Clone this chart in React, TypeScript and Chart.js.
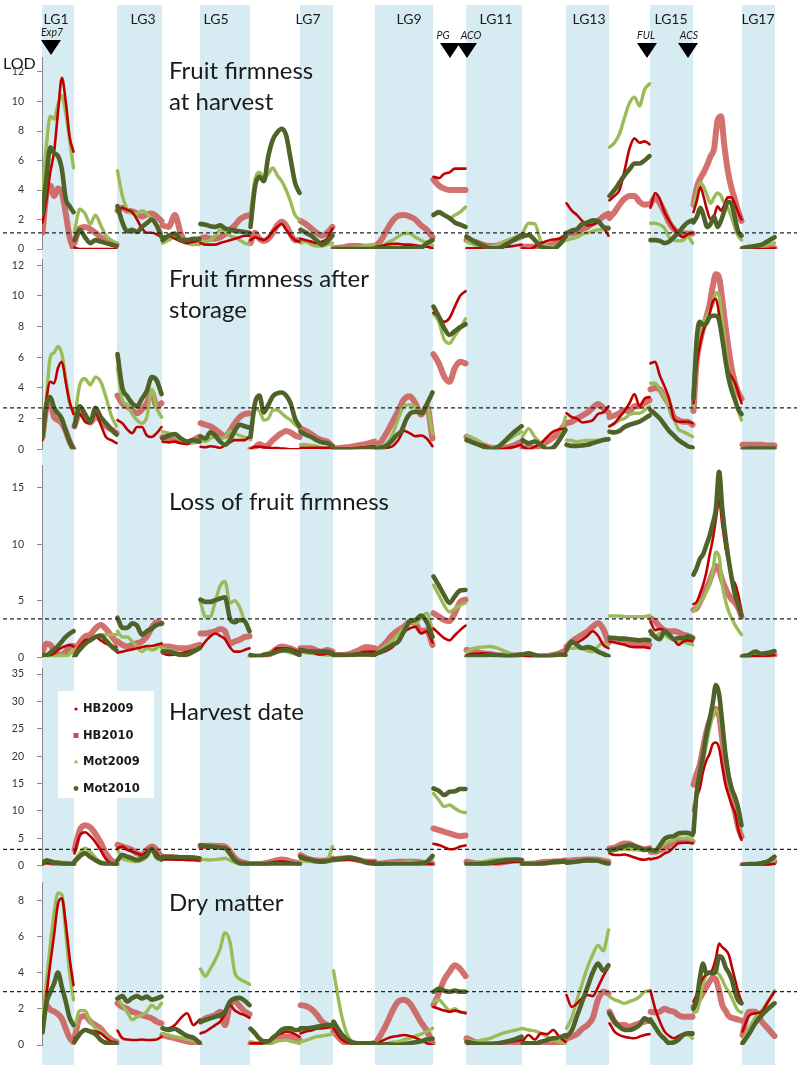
import React, { useEffect, useRef } from "react";
import { Chart, registerables } from "chart.js";

Chart.register(...registerables);

const PAGE_W = 800;
const PAGE_H = 1065;

// ---------------- map layout (cM-like positions along the concatenated genome) ----------------
const linkageGroups = ["LG1","LG2","LG3","LG4","LG5","LG6","LG7","LG8","LG9","LG10","LG11","LG12","LG13","LG14","LG15","LG16","LG17"];
const lgStart = [0, 32, 75, 120, 158, 208, 258, 291, 333, 391, 424, 480, 524, 567, 608, 651, 700];
const lgEnd = [32, 75, 120, 158, 208, 258, 291, 333, 391, 424, 480, 524, 567, 608, 651, 700, 733];
const lgLabelPos = [14, 0, 101, 0, 174, 0, 266, 0, 367, 0, 454, 0, 547, 0, 629, 0, 716];
const mapMax = 755;

const markerNames = ["Exp7", "PG", "ACO", "FUL", "ACS"];
const markerPos = [9, 408, 425, 605, 646];
const markerLabelPos = [10, 401, 429, 604, 647];

const seriesNames = ["HB2009", "HB2010", "Mot2009", "Mot2010"];

// ---------------- LOD profiles: one sub-array per linkage group ----------------
// Fruit firmness at harvest
const harvestHB2009 = [
  [1.8,3.3,5.2,6.6,9.3,11.6,10.0,7.6,6.6],
  [0.1,0,0,0,0,0,0,0,0],
  [2.6,2.8,2.65,2.5,2.0,1.4,1.1,1.1,1.0,0.8],
  [0.8,0.9,0.7,0.5,0.4,0.5,0.6],
  [0.4,0.3,0.3,0.3,0.4,0.5,0.6,0.7,0.8,0.9,0.9],
  [0.6,0.8,0.7,0.6,0.8,1.2,1.5,1.7,1.3,0.9,0.6,0.5],
  [0.7,0.6,0.5,0.4,0.5,0.7,1.4],
  [0,0,0,0,0,0],
  [0.15,0.2,0.3,0.35,0.35,0.3,0.3,0.25,0.2,0.15,0.05],
  [4.9,4.8,5.1,5.2,5.45,5.45,5.45],
  [0.05,0.05,0.05,0,0.05,0.15,0.2,0.3],
  [0.05,0,0.15,0.4,0.55,0.65,0.7,0.95],
  [3.1,2.6,2.3,1.9,1.6,1.65,1.8,1.5,0.9],
  [3.3,3.6,4.0,5.3,6.8,7.5,7.2,7.3,7.1],
  [2.8,3.8,3.4,2.5,1.9,1.4,1.0,0.8,1.0,1.1],
  [2.5,3.3,4.2,3.5,2.6,2.0,2.2,2.9,2.6,3.0,3.5,3.5,3.1,2.5,2.0],
  [0,0,0,0,0,0.05],
];
const harvestHB2010 = [
  [1.1,3.7,4.3,3.6,4.1,3.8,2.4,0.8,0],
  [0.4,1.4,1.5,1.35,1.1,0.8,0.55,0.4,0.3],
  [2.6,2.8,2.6,2.55,2.4,2.2,2.35,2.4,2.2,1.9],
  [1.6,1.5,2.3,1.0,0.5,0.5,0.6],
  [0.7,0.8,0.7,0.7,0.8,1.0,1.3,1.6,2.0,2.2,2.3],
  [0.4,1.1,0.7,0.55,0.7,1.1,1.6,1.85,1.6,1.0,0.6,0.6],
  [1.9,1.7,1.4,1.1,0.9,1.1,1.5],
  [0.05,0.1,0.2,0.2,0.15,0.1],
  [0.2,0.6,1.3,1.9,2.25,2.3,2.2,2.0,1.6,1.3,0.8],
  [4.7,4.3,4.1,4.0,4.0,4.0,4.0],
  [0.6,0.5,0.3,0.2,0.25,0.45,0.65,0.85],
  [0.15,0.15,0.15,0.05,0.2,0.35,0.6,0.85],
  [1.05,1.05,1.15,1.35,1.5,1.75,1.9,2.2,2.4],
  [2.1,2.5,3.0,3.4,3.6,3.6,3.2,3.0,3.05],
  [3.05,3.5,3.1,2.5,1.8,1.35,1.1,1.05,1.05,1.05],
  [3.0,4.2,4.8,5.2,5.7,6.3,6.8,8.7,9.0,7.0,5.3,4.2,3.4,2.6,1.9],
  [0,0.05,0.05,0.05,0.05,0.05],
];
const harvestMot2009 = [
  [4.0,7.0,9.0,8.8,9.8,10.4,9.2,7.4,5.5],
  [1.2,2.7,2.4,1.7,2.3,1.6,0.9,0.6,0.4],
  [5.3,3.6,2.7,2.4,2.4,2.6,2.4,2.0,1.6,1.1],
  [0.4,0.6,0.8,0.6,0.4,0.3,0.3],
  [0.6,0.5,0.6,0.9,1.3,1.2,0.9,0.8,0.6,0.4,0.3],
  [2.4,4.7,5.2,4.8,5.1,5.5,5.0,4.6,4.0,3.2,2.3,2.0],
  [0.4,0.5,0.3,0.2,0.2,0.3,0.4],
  [0.05,0.05,0.05,0.1,0.25,0.3],
  [0.15,0.2,0.4,0.6,0.85,1.05,1.05,0.8,0.6,0.4,0.25],
  [2.4,2.4,2.3,2.1,2.3,2.5,2.85],
  [0.5,0.3,0.1,0.15,0.3,0.5,0.75,0.95],
  [1.05,1.75,1.7,0.5,0.2,0.15,0.3,0.6],
  [0.6,0.7,0.8,1.0,1.1,1.2,1.3,1.3,1.5],
  [6.9,7.2,7.8,8.9,9.9,10.3,9.7,10.8,11.2],
  [1.75,1.75,1.65,1.4,0.8,0.6,0.55,0.6,0.85,0.4],
  [3.0,3.8,4.5,4.2,3.6,3.1,3.5,3.8,3.6,3.1,2.8,2.2,1.5,0.9,0.6],
  [0,0.05,0.1,0.15,0.3,0.4],
];
const harvestMot2010 = [
  [2.4,4.8,6.9,6.5,6.3,5.4,3.4,2.9,2.5],
  [0.6,1.3,0.8,0.4,0.6,0.5,0.4,0.3,0.2],
  [2.9,1.8,1.2,1.3,1.15,1.5,1.75,2.0,1.6,0.8],
  [0.6,0.9,1.05,0.6,0.6,0.7,0.7],
  [1.7,1.65,1.55,1.5,1.6,1.4,1.3,1.25,1.2,1.15,1.1],
  [1.5,4.2,4.9,4.6,6.3,7.4,7.9,8.15,7.7,6.1,4.5,3.8],
  [1.3,1.1,0.9,0.6,0.3,0.5,0.9],
  [0,0,0,0,0,0],
  [0.05,0.05,0.05,0.05,0.05,0.05,0.05,0.1,0.1,0.4,0.6],
  [2.3,2.5,2.3,2.1,1.8,1.65,1.5],
  [0.85,0.5,0.25,0.05,0.05,0.3,0.6,0.95],
  [0.85,0.95,0.6,0.15,0.05,0,0.3,0.85],
  [1.05,1.25,1.35,1.7,1.8,1.95,1.9,1.5,1.4],
  [3.6,4.0,4.5,5.0,5.4,5.8,5.8,6.0,6.3],
  [0.6,0.6,0.55,0.4,0.5,0.8,1.1,1.5,1.8,1.95],
  [1.8,2.2,2.8,2.2,1.5,1.7,2.2,1.5,1.9,2.6,3.2,3.1,2.2,1.2,0.9],
  [0.05,0.15,0.2,0.3,0.55,0.8],
];

// Fruit firmness after storage
const storageHB2009 = [
  [0.6,3.2,4.4,4.3,5.3,5.7,4.4,3.1,2.3],
  [1.7,2.3,1.8,1.7,2.35,1.6,0.8,0.6,0.4],
  [1.9,1.7,1.3,1.05,1.45,1.45,0.9,0.8,1.05,1.45],
  [0.5,0.45,0.5,0.4,0.35,0.6,0.6],
  [0.17,0.13,0.2,0.17,0.1,0.25,0.45,0.6,0.6,0.6,0.83],
  [0,0.17,0.17,0.13,0.1,0.08,0.08,0.05,0.04,0,0,0],
  [0.1,0.1,0.1,0.1,0.1,0.1,0.1],
  [0,0,0.05,0.1,0.15,0.2],
  [0,0,0.1,0.2,0.6,1.2,1.05,0.85,0.9,0.7,0.2],
  [8.9,8.65,8.3,8.55,9.3,10.0,10.3],
  [0.7,0.4,0.3,0.1,0,0.05,0.15,0.3],
  [0.17,0,0.17,0.4,0.8,1.15,1.3,1.35],
  [2.35,2.1,2.0,1.75,1.8,1.9,2.3,2.4,2.8],
  [1.5,1.7,2.1,2.5,3.0,3.6,2.8,3.3,3.4],
  [5.6,5.7,4.8,4.1,3.3,2.0,1.8,1.8,1.8,1.7],
  [3.0,5.5,6.8,7.7,8.2,8.8,9.6,9.8,8.8,7.2,5.7,5.0,4.7,4.3,3.7,3.0],
  [0.05,0.05,0.05,0.05,0.05,0.05],
];
const storageHB2010 = [
  [0.8,2.7,3.0,2.1,1.9,1.7,1.2,0.5,0],
  [1.5,2.35,2.1,1.75,2.1,1.9,1.5,1.3,1.05],
  [3.5,3.0,2.8,2.55,2.35,2.6,3.0,3.7,2.8,3.0],
  [0.8,0.7,0.6,0.5,0.45,0.6,0.83],
  [1.7,1.6,1.5,1.3,1.05,0.85,1.2,1.7,2.1,2.3,2.35],
  [0,0.1,0.35,0.2,0.3,0.6,0.85,1.05,1.2,1.1,0.9,0.8],
  [1.35,1.2,1.0,0.75,0.6,0.5,0.2],
  [0.05,0.1,0.15,0.25,0.35,0.5],
  [0.17,0.5,1.1,1.8,2.5,3.25,3.45,3.0,2.25,2.8,0.7],
  [6.2,5.6,4.75,4.4,5.3,5.7,5.6],
  [0.83,0.5,0.3,0.1,0.07,0.1,0.25,0.5],
  [0.07,0.17,0.07,0.25,0.5,0.75,1.15,1.7],
  [1.7,1.8,2.0,2.2,2.4,2.7,2.95,2.7,2.4],
  [2.1,2.2,2.35,2.55,2.45,2.8,2.8,3.0,3.2],
  [3.9,4.0,3.9,3.4,2.9,2.1,1.9,1.8,1.8,1.6],
  [2.5,5.8,7.0,7.9,8.6,9.4,10.6,11.4,11.2,9.7,8.0,6.5,5.2,4.3,3.7,3.3],
  [0.3,0.3,0.3,0.3,0.25,0.25],
];
const storageMot2009 = [
  [0.8,3.3,6.0,6.3,6.7,6.2,4.6,3.0,2.5],
  [1.9,4.2,4.6,4.2,4.7,4.4,3.4,2.2,1.5],
  [5.3,3.2,2.9,2.3,1.9,1.7,2.1,3.9,2.7,2.1],
  [1.15,1.05,0.85,0.6,0.5,0.4,0.5],
  [0.6,0.5,0.7,0.8,0.7,0.8,1.2,1.05,0.9,0.8,0.7],
  [0.6,2.6,2.5,1.9,2.0,2.55,2.55,2.35,2.1,1.9,1.6,1.4],
  [0.3,0.3,0.25,0.2,0.1,0.05,0],
  [0,0,0.05,0.1,0.15,0.2],
  [0,0.2,0.4,1.0,2.0,2.8,2.9,2.75,2.4,2.7,1.0],
  [8.85,8.3,7.15,6.9,7.4,7.9,8.5],
  [0.9,0.7,0.4,0.1,0.15,0.5,0.85,1.15],
  [0.83,1.35,0.8,0.4,0.07,0.17,0.7,2.1],
  [0.6,0.57,0.5,0.55,0.57,0.57,0.6,0.65,0.7],
  [1.5,1.7,1.9,2.0,2.25,2.35,2.35,2.55,2.8],
  [4.3,4.3,3.9,3.4,2.7,2.0,1.3,1.15,1.0,0.83],
  [2.8,6.5,7.7,8.3,8.6,9.0,9.4,10.2,10.0,8.3,6.6,5.0,4.3,3.4,2.5,1.9],
  [0.05,0.05,0.05,0.05,0.05,0.05],
];
const storageMot2010 = [
  [0.8,2.9,3.4,2.7,2.35,2.0,1.2,0.5,0],
  [1.5,2.8,2.3,1.8,2.7,2.1,1.7,1.3,0.95],
  [6.2,4.0,3.45,3.0,2.8,3.3,3.8,4.7,4.5,3.6],
  [0.7,0.9,1.0,0.7,0.5,0.6,0.5],
  [0.83,0.7,1.1,0.9,0.5,0.3,0.6,1.2,1.6,1.5,1.4],
  [0.8,3.0,3.5,2.4,2.9,3.45,3.65,3.7,3.5,3.0,2.0,1.5],
  [1.15,0.95,0.8,0.6,0.45,0.4,0.2],
  [0,0,0,0,0.05,0.1],
  [0,0.1,0.2,0.5,0.9,1.2,2.0,2.4,2.45,2.35,3.0,3.7],
  [9.3,8.65,7.9,7.45,7.7,7.95,8.15],
  [0.6,0.4,0.2,0,0.15,0.6,1.1,1.5],
  [0.6,0.4,0.5,0.3,0,0.1,0.6,1.26],
  [0.3,0.22,0.22,0.25,0.3,0.4,0.5,0.6,0.65],
  [1.15,1.1,1.2,1.45,1.6,1.7,1.8,2.0,2.2],
  [2.55,2.3,2.0,1.6,1.2,0.9,0.6,0.4,0.2,0.1],
  [3.3,7.2,8.3,8.1,8.2,8.6,8.7,8.7,8.4,7.2,5.8,4.6,3.8,3.2,2.6,2.3],
  [0,0.05,0.05,0.05,0.05,0.05],
];

// Loss of fruit firmness
const lossHB2009 = [
  [0.2,0.2,0.2,0.35,0.65,0.85,1.0,1.1,0.95],
  [0.2,1.0,1.5,1.6,1.8,1.5,1.2,1.0,0.9],
  [0.4,0.5,0.6,0.7,0.8,0.9,1.0,1.0,1.1,1.2],
  [0.35,0.2,0.25,0.35,0.5,0.65,0.8],
  [0.8,1.4,1.85,2.1,1.9,1.6,0.9,0.5,0.5,0.65,0.8],
  [0.06,0.1,0.15,0.2,0.2,0.5,0.8,0.8,0.8,0.75,0.6,0.4],
  [0.5,0.5,0.45,0.3,0.25,0.35,0.2],
  [0.2,0.2,0.2,0.35,0.5,0.5],
  [0.2,0.4,0.6,0.9,1.5,2.2,2.55,2.7,2.1,2.3,1.3],
  [2.55,2.1,1.7,1.5,1.95,2.4,2.8],
  [0.2,0.3,0.35,0.3,0.2,0.06,0.1,0.15],
  [0.12,0.06,0.06,0.06,0.06,0.15,0.25,0.35],
  [0.8,1.2,1.3,1.55,1.9,2.3,1.9,1.1,0.8],
  [1.4,1.3,1.2,1.1,0.95,0.9,0.9,0.9,0.8],
  [3.15,2.4,2.5,2.4,2.0,1.55,1.1,1.4,1.5,1.4],
  [4.7,4.9,5.6,6.4,7.5,9.0,10.4,12.2,13.9,11.7,9.7,8.3,6.9,6.5,5.5,4.1],
  [0,0.06,0.1,0.12,0.15,0.2],
];
const lossHB2010 = [
  [0.5,1.2,1.1,0.6,0.25,0.25,0.5,0.9,1.0],
  [0.5,1.3,1.85,2.0,2.55,2.85,2.5,1.9,1.3],
  [1.4,1.1,0.95,1.1,1.25,1.4,1.85,2.6,3.1,3.0],
  [0.95,0.95,0.85,0.8,0.8,0.95,1.1],
  [2.1,2.1,2.2,2.3,2.5,2.3,1.25,1.4,1.55,1.8,1.85],
  [0.06,0.06,0.06,0.15,0.2,0.5,0.8,0.95,0.9,0.8,0.6,0.5],
  [0.8,0.8,0.8,0.6,0.5,0.65,0.5],
  [0.2,0.2,0.3,0.6,0.9,0.8],
  [0.5,0.9,1.4,2.0,2.4,2.7,3.15,3.0,2.3,2.4,1.1],
  [3.9,3.6,3.3,3.2,3.9,4.9,5.1],
  [0.65,0.5,0.35,0.3,0.15,0.15,0.15,0.2],
  [0.2,0.1,0.06,0.1,0.12,0.2,0.35,0.6],
  [0.95,1.4,1.7,2.0,2.3,2.7,3.0,2.5,1.3],
  [1.7,1.6,1.5,1.4,1.25,1.25,1.25,1.2,1.1],
  [3.45,3.2,2.7,2.4,2.3,2.3,2.2,2.0,1.9,1.7],
  [4.2,4.35,4.9,5.5,6.1,6.7,7.5,8.1,7.7,6.8,6.1,5.5,5.1,4.8,4.35,3.6],
  [0.06,0.15,0.2,0.2,0.2,0.2],
];
const lossMot2009 = [
  [0.2,0.1,0.06,0.06,0.15,0.2,0.1,0.3,0.8],
  [0.2,0.6,1.1,1.6,1.8,2.0,2.0,2.0,2.0],
  [2.3,1.8,1.8,1.4,0.95,0.5,0.8,0.65,0.8,1.25],
  [0.8,0.65,0.5,0.35,0.5,0.65,0.8],
  [4.9,3.6,3.6,4.9,6.3,6.7,4.8,5.0,4.4,3.2,2.3],
  [0.06,0.15,0.2,0.3,0.4,0.5,0.65,0.6,0.5,0.4,0.3,0.2],
  [0.5,0.4,0.35,0.3,0.25,0.2,0.2],
  [0.2,0.2,0.2,0.2,0.2,0.25],
  [0.3,0.7,1.1,1.5,2.0,2.6,3.15,3.0,3.5,3.9,2.4],
  [6.4,5.5,4.6,4.0,4.3,4.6,4.8],
  [0.5,0.8,0.9,0.95,0.8,0.5,0.25,0.2],
  [0.2,0.1,0.06,0.06,0.06,0.1,0.15,0.25],
  [0.8,0.8,0.85,0.8,0.6,0.5,0.95,1.3,1.1],
  [3.65,3.65,3.65,3.6,3.6,3.6,3.6,3.6,3.7],
  [2.0,1.85,2.1,2.0,1.7,1.55,1.4,1.35,1.25,1.1],
  [4.1,4.35,4.9,5.2,5.8,6.4,7.5,9.3,8.9,6.4,5.0,4.05,3.4,2.85,2.4,2.0],
  [0.06,0.2,0.25,0.35,0.35,0.35],
];
const lossMot2010 = [
  [0.2,0.2,0.4,0.7,1.0,1.4,1.8,2.1,2.3],
  [0.06,0.7,1.2,1.5,1.8,1.9,1.5,1.0,0.6],
  [3.5,2.6,2.6,3.0,2.8,2.0,2.3,2.55,2.85,3.0],
  [0.5,0.5,0.35,0.2,0.25,0.5,0.8],
  [5.1,4.9,4.9,5.05,5.2,5.3,3.45,3.1,3.3,3.2,2.3],
  [0.2,0.1,0.06,0.2,0.3,0.35,0.5,0.6,0.65,0.6,0.4,0.2],
  [0.65,0.55,0.5,0.5,0.5,0.5,0.35],
  [0.2,0.2,0.2,0.25,0.25,0.2],
  [0.3,0.5,0.8,1.1,1.4,2.3,3.15,3.3,3.7,3.1,1.8],
  [7.15,6.35,5.5,4.8,5.4,5.9,5.95],
  [0.06,0.06,0.1,0.2,0.2,0.1,0.15,0.25],
  [0.25,0.35,0.2,0.1,0.06,0.15,0.25,0.2],
  [0.65,1.4,1.1,0.8,0.9,0.8,0.5,0.3,0.1],
  [1.7,1.7,1.65,1.65,1.6,1.55,1.5,1.55,1.5],
  [2.3,1.8,1.6,2.3,2.0,1.6,1.7,1.7,1.85,1.7],
  [7.3,7.9,8.7,9.1,9.9,10.7,11.8,13.1,16.4,13.1,10.6,8.6,6.9,5.5,4.6,3.7],
  [0.06,0.2,0.5,0.3,0.4,0.55],
];

// Harvest date
const dateHB2009 = [
  [0.4,0.5,0.45,0.4,0.35,0.35,0.3,0.3,0.3],
  [2.25,5.5,6.1,5.4,4.3,2.8,1.2,0.4,0.2],
  [3.2,3.5,2.9,2.6,2.25,1.95,2.6,3.2,2.25,1.0],
  [1.15,1.15,1.1,1.1,1.05,1.05,1.0],
  [3.4,3.4,3.4,3.35,3.3,3.3,2.4,1.2,0.6,0.4,0.3],
  [0.35,0.35,0.35,0.4,0.5,0.6,0.7,0.8,0.7,0.55,0.45,0.4],
  [1.35,1.1,1.0,0.9,0.85,0.9,1.0],
  [1.0,1.05,1.1,0.9,0.75,0.7],
  [0.12,0.2,0.3,0.35,0.4,0.43,0.4,0.35,0.3,0.3,0.3],
  [4.0,3.8,3.4,3.0,3.1,3.5,3.7],
  [0.43,0.35,0.3,0.35,0.43,0.6,0.7,0.73],
  [0.3,0.35,0.4,0.5,0.6,0.73,0.8,0.85],
  [0.65,0.7,0.75,0.8,0.85,0.9,0.85,0.75,0.6],
  [2.25,1.95,1.95,2.05,1.8,1.5,1.2,1.1,1.3],
  [1.15,1.34,1.64,2.25,2.6,3.4,4.1,4.2,4.2,4.1],
  [10.0,12.5,14.2,17.2,19.2,20.4,22.2,22.5,21.5,18.0,14.8,12.8,11.0,9.6,6.6,4.7],
  [0,0.12,0.12,0.15,0.2,0.3],
];
const dateHB2010 = [
  [0.5,0.7,0.6,0.45,0.4,0.35,0.35,0.3,0.3],
  [2.9,6.5,7.4,7.0,5.8,4.2,2.2,1.0,0.3],
  [3.8,3.5,3.2,2.9,2.25,1.95,2.9,3.5,2.9,1.4],
  [1.64,1.55,1.5,1.4,1.35,1.3,1.15],
  [3.6,3.65,3.65,3.6,3.6,3.5,2.6,1.4,0.8,0.5,0.3],
  [0.3,0.3,0.3,0.4,0.55,0.8,1.0,1.15,1.05,0.8,0.6,0.45],
  [1.95,1.4,1.1,0.95,0.9,1.0,1.3],
  [1.15,1.3,1.35,1.05,0.75,0.7],
  [0.3,0.4,0.55,0.65,0.7,0.7,0.7,0.7,0.6,0.45,0.3],
  [6.8,6.5,6.2,5.9,5.6,5.4,5.5],
  [0.73,0.45,0.3,0.35,0.45,0.7,1.0,0.9],
  [0.3,0.35,0.4,0.6,0.7,0.75,0.8,1.0],
  [0.8,0.95,1.05,1.1,1.15,1.15,1.1,0.85,0.73],
  [3.16,3.3,3.75,4.05,4.0,3.5,3.2,3.0,3.2],
  [2.55,2.55,2.86,3.2,3.8,4.4,4.7,4.7,4.7,4.4],
  [14.8,16.8,18.5,21.5,24.4,26.4,27.6,28.6,27.5,23.0,18.8,14.7,12.2,9.7,7.0,5.3],
  [0.12,0.12,0.15,0.3,0.5,0.73],
];
const dateMot2009 = [
  [0.7,0.8,0.8,0.7,0.7,0.6,0.5,0.5,0.5],
  [1.0,2.3,3.2,2.6,1.4,0.7,0.4,0.3,0.3],
  [2.9,1.3,1.0,0.8,0.75,1.0,1.64,2.9,1.34,1.0],
  [1.3,1.3,1.25,1.25,1.2,1.2,1.15],
  [1.15,1.1,1.05,1.1,1.2,1.35,1.0,0.6,0.3,0.2,0.2],
  [0.4,0.4,0.4,0.45,0.5,0.5,0.5,0.5,0.45,0.4,0.4,0.4],
  [1.0,0.8,0.75,0.7,0.75,1.0,3.5],
  [1.0,1.25,1.35,1.05,0.45,0.3],
  [0.3,0.35,0.4,0.5,0.5,0.6,0.73,0.6,0.55,0.8,1.2],
  [13.2,12.0,10.8,11.1,10.5,9.9,9.7],
  [0.43,0.55,0.7,1.0,1.15,1.3,1.3,1.15],
  [0.3,0.3,0.35,0.4,0.43,0.5,0.6,0.73],
  [0.65,0.75,0.85,0.95,1.03,1.03,1.0,0.8,0.55],
  [2.55,2.7,2.9,3.0,2.95,2.9,2.86,2.86,2.86],
  [2.7,2.55,3.16,4.0,4.4,4.7,5.1,5.0,5.1,4.7],
  [10.5,12.8,15.3,18.8,22.0,25.0,27.3,28.4,27.9,24.3,19.8,15.7,13.3,12.1,9.8,7.1],
  [0.12,0.2,0.3,0.55,0.8,1.03],
];
const dateMot2010 = [
  [0.4,1.0,0.8,0.6,0.5,0.4,0.35,0.3,0.3],
  [0.73,1.7,2.3,1.6,1.0,0.5,0.35,0.3,0.3],
  [1.0,1.95,1.64,1.34,1.03,1.34,1.95,3.1,1.64,1.15],
  [1.64,1.64,1.6,1.55,1.55,1.5,1.35],
  [3.75,3.6,3.5,3.4,3.3,3.2,2.2,1.0,0.45,0.35,0.3],
  [0.3,0.3,0.3,0.3,0.3,0.3,0.3,0.3,0.3,0.3,0.3,0.3],
  [1.64,1.3,1.05,0.8,0.75,0.85,1.1],
  [1.15,1.3,1.5,1.15,0.6,0.3],
  [0.3,0.3,0.3,0.3,0.3,0.3,0.3,0.35,0.45,0.7,1.8],
  [14.1,13.7,12.9,13.5,13.6,14.0,14.0],
  [0.3,0.3,0.4,0.55,0.8,1.0,1.1,1.05],
  [0.3,0.3,0.3,0.35,0.45,0.7,0.75,0.75],
  [0.55,0.65,0.75,0.9,1.0,0.95,0.9,0.6,0.3],
  [2.86,3.0,3.3,3.55,3.75,3.6,3.25,2.9,3.0],
  [2.9,2.7,3.7,4.9,5.3,5.4,5.9,6.0,6.0,5.6],
  [6.0,13.5,17.0,20.2,23.8,26.6,29.6,33.0,31.3,26.0,20.3,16.4,14.0,12.5,10.5,7.4],
  [0.12,0.3,0.3,0.45,0.8,1.64],
];

// Dry matter
const dryHB2009 = [
  [0.9,2.7,4.5,6.1,7.8,8.1,6.7,4.8,3.3],
  [0.37,0.6,0.8,0.8,0.74,0.64,0.4,0.2,0.15],
  [0.8,0.37,0.3,0.28,0.28,0.3,0.28,0.28,0.3,0.46],
  [0.92,0.92,1.1,1.5,1.75,1.1,1.4],
  [0.64,0.74,0.92,1.1,1.29,1.7,2.2,1.9,1.75,1.65,1.5],
  [0.1,0.09,0.09,0.1,0.2,0.4,0.55,0.65,0.74,0.7,0.6,0.46],
  [0.64,0.74,0.8,0.9,0.92,0.95,1.1],
  [0.92,0.3,0.1,0.09,0.09,0.15],
  [0,0.2,0.35,0.45,0.5,0.55,0.5,0.4,0.25,0.1,0],
  [2.1,2.0,1.9,1.84,1.9,1.84,1.75],
  [0.09,0.04,0.04,0.04,0.09,0.15,0.2,0.28],
  [0.2,0.55,0.3,0.64,0.6,0.83,0.45,0.18],
  [2.76,2.1,2.3,2.6,2.76,2.7,3.2,3.8,4.3],
  [1.2,0.74,0.55,0.46,0.4,0.37,0.46,0.55,0.6],
  [3.0,2.0,1.3,0.75,0.5,0.37,0.5,0.6,0.62,0.55],
  [2.4,2.8,3.3,3.7,3.9,4.0,4.2,4.8,5.6,5.4,5.25,5.0,4.3,3.6,2.9,2.4],
  [0.74,1.6,1.75,1.84,2.4,2.94],
];
const dryHB2010 = [
  [2.0,2.2,1.95,1.85,1.7,1.45,0.9,0.4,0.15],
  [0.37,1.5,1.6,1.3,1.1,0.9,0.55,0.3,0.15],
  [2.3,2.1,2.0,1.84,1.75,1.65,1.56,1.47,1.29,1.2],
  [0.55,0.45,0.37,0.28,0.2,0.1,0.04],
  [1.29,1.47,1.56,1.65,1.84,1.1,2.2,2.4,2.15,1.85,1.7],
  [0.09,0.05,0,0,0.1,0.2,0.3,0.45,0.46,0.46,0.37,0.28],
  [2.2,2.15,2.0,1.7,1.3,1.1,1.0],
  [0.74,0.25,0,0,0,0.09],
  [0.09,0.6,1.2,1.9,2.4,2.5,2.3,1.8,1.25,0.8,0.1],
  [2.2,2.85,3.6,4.05,4.4,4.2,3.8],
  [0.37,0.18,0.09,0.04,0.04,0.09,0.09,0.09],
  [0.09,0.04,0,0,0,0.04,0.09,0.28],
  [0.37,0.46,0.6,0.9,1.1,1.5,2.5,2.94,2.85],
  [1.84,1.29,1.1,1.1,1.0,1.1,1.2,1.29,1.38],
  [1.84,1.8,1.84,2.0,1.9,1.84,1.65,1.56,1.56,1.56],
  [2.1,2.3,2.6,2.9,3.2,3.5,3.7,3.6,3.0,2.2,1.9,1.6,1.5,1.45,1.4,1.35],
  [0.55,1.84,1.84,1.3,0.9,0.5],
];
const dryMot2009 = [
  [1.5,3.5,5.5,7.3,8.4,8.3,6.2,4.0,2.5],
  [0.92,1.9,1.9,1.3,0.92,0.74,0.5,0.2,0.09],
  [2.57,2.2,1.8,1.4,1.55,1.65,1.84,2.2,2.0,2.3],
  [0.64,0.55,0.46,0.4,0.3,0.25,0.1],
  [4.2,3.8,4.2,4.7,5.3,6.2,5.7,4.0,3.65,3.5,3.35],
  [0.18,0.12,0.1,0.09,0.09,0.18,0.22,0.25,0.28,0.2,0.15,0.09],
  [0.18,0.25,0.37,0.46,0.5,0.55,0.6],
  [4.1,1.6,0.3,0.09,0.09,0.18],
  [0,0.05,0.09,0.15,0.18,0.3,0.37,0.5,0.6,0.75,0.92],
  [2.4,2.5,2.2,1.9,2.0,1.8,1.8],
  [0.28,0.18,0.28,0.37,0.55,0.7,0.8,0.9],
  [0.92,0.83,0.78,0.65,0.46,0.28,0.18,0.09],
  [0.92,1.5,2.5,3.4,4.3,5.0,5.5,5.2,6.35],
  [2.67,2.5,2.4,2.3,2.4,2.5,2.67,2.94,3.0],
  [1.3,0.92,0.55,0.28,0.18,0.18,0.37,0.55,0.55,0.37],
  [1.8,1.84,2.5,3.4,3.85,3.95,3.9,4.0,3.9,3.6,3.2,2.95,2.6,2.2,1.9,1.8],
  [0.18,0.9,1.5,1.9,2.4,3.0],
];
const dryMot2010 = [
  [0.7,2.3,2.9,3.4,4.0,3.2,2.4,1.5,1.1],
  [0.18,0.6,0.83,0.74,0.6,0.28,0.12,0.09,0.05],
  [2.57,2.7,2.4,2.6,2.7,2.57,2.67,2.5,2.57,2.67],
  [0.92,0.83,0.9,0.7,0.5,0.4,0.13],
  [1.29,1.38,1.47,1.56,1.65,1.84,2.4,2.57,2.6,2.45,2.2],
  [0.9,0.65,0.35,0.2,0.2,0.4,0.6,0.85,0.92,0.92,0.83,0.83],
  [0.92,0.92,0.95,1.0,1.05,1.1,1.1],
  [1.29,0.6,0.2,0.09,0.09,0.09],
  [0,0.02,0.04,0.02,0,0.05,0.1,0.15,0.2,0.3,0.35],
  [2.94,3.1,3.0,2.94,3.0,2.94,2.94],
  [0.18,0.09,0.04,0.05,0.09,0.18,0.3,0.46],
  [0.09,0.09,0.09,0.18,0.28,0.37,0.42,0.55],
  [0.46,0.8,1.6,2.4,3.2,4.0,4.5,4.1,4.4],
  [1.75,1.29,1.0,0.83,0.83,0.92,1.1,1.47,1.3],
  [1.4,1.0,0.6,0.35,0.09,0.15,0.3,0.55,0.64,0.64],
  [2.0,2.5,3.7,4.5,3.95,4.0,3.95,4.1,4.9,4.8,4.3,4.0,3.6,2.9,2.45,2.3],
  [0.09,0.6,1.2,1.65,2.0,2.3],
];

// ---------------- styling / layout ----------------
const seriesStyle = [
  { color: "#c00000", width: 2.6, order: 2 },
  { color: "rgba(200,82,78,0.82)", width: 6, order: 4 },
  { color: "#9bbb59", width: 3.4, order: 3 },
  { color: "#4f6228", width: 4.6, order: 1 },
];

const panels = [
  { titles: ["Fruit firmness", "at harvest"], series: [harvestHB2009, harvestHB2010, harvestMot2009, harvestMot2010],
    max: 13, ticks: [0, 2, 4, 6, 8, 10, 12], threshold: 1.1, top: 57.25, zero: 249, titleY: [78.5, 109.5] },
  { titles: ["Fruit firmness after", "storage"], series: [storageHB2009, storageHB2010, storageMot2009, storageMot2010],
    max: 12.4, ticks: [0, 2, 4, 6, 8, 10, 12], threshold: 2.7, top: 259, zero: 449.3, titleY: [287, 317.5] },
  { titles: ["Loss of fruit firmness"], series: [lossHB2009, lossHB2010, lossMot2009, lossMot2010],
    max: 17, ticks: [0, 5, 10, 15], threshold: 3.4, top: 465, zero: 657.3, titleY: [510] },
  { titles: ["Harvest date"], series: [dateHB2009, dateHB2010, dateMot2009, dateMot2010],
    max: 36, ticks: [0, 5, 10, 15, 20, 25, 30, 35], threshold: 3.0, top: 668.6, zero: 865.7, titleY: [720] },
  { titles: ["Dry matter"], series: [dryHB2009, dryHB2010, dryMot2009, dryMot2010],
    max: 9, ticks: [0, 2, 4, 6, 8], threshold: 2.95, top: 882, zero: 1045, titleY: [911] },
];

const BAND = "#d6ecf2";
const TEXT = "#1a1a1a";

function buildPoints(groups: number[][]) {
  const pts: { x: number; y: number | null }[] = [];
  groups.forEach((vals, i) => {
    const a = lgStart[i] + 0.5;
    const b = lgEnd[i] - 0.5;
    vals.forEach((v, j) => {
      pts.push({ x: a + ((b - a) * j) / (vals.length - 1), y: v });
    });
    pts.push({ x: lgEnd[i], y: null });
  });
  return pts;
}

function makePlugin(index: number) {
  const p = panels[index];
  return {
    id: "decor" + index,
    beforeDraw(chart: any) {
      if (index !== 0) return;
      const { ctx } = chart;
      const xs = chart.scales.x;
      ctx.save();
      // linkage-group bands (odd LGs)
      ctx.fillStyle = BAND;
      for (let i = 0; i < linkageGroups.length; i += 2) {
        const x0 = xs.getPixelForValue(lgStart[i]);
        const x1 = xs.getPixelForValue(lgEnd[i]);
        ctx.fillRect(x0, 5, x1 - x0, PAGE_H - 5);
      }
      // LG labels
      ctx.fillStyle = TEXT;
      ctx.font = "14px Lato";
      ctx.textAlign = "center";
      ctx.textBaseline = "alphabetic";
      for (let i = 0; i < linkageGroups.length; i += 2) {
        ctx.fillText(linkageGroups[i], xs.getPixelForValue(lgLabelPos[i]), 23.5);
      }
      // candidate gene markers
      markerNames.forEach((name, k) => {
        const xm = xs.getPixelForValue(markerPos[k]);
        const top = k === 0 ? 40 : 43;
        ctx.fillStyle = "#000";
        ctx.beginPath();
        ctx.moveTo(xm - 10, top);
        ctx.lineTo(xm + 10, top);
        ctx.lineTo(xm, top + 15);
        ctx.closePath();
        ctx.fill();
        ctx.fillStyle = TEXT;
        ctx.font = "italic 10.5px Lato";
        ctx.fillText(name, xs.getPixelForValue(markerLabelPos[k]), top - 4.5);
      });
      // LOD axis title
      ctx.textAlign = "left";
      ctx.font = "16px Lato";
      ctx.fillText("LOD", 3, 69);
      ctx.restore();
    },
    afterDatasetsDraw(chart: any) {
      const { ctx, chartArea } = chart;
      const ys = chart.scales.y;
      ctx.save();
      // significance threshold
      const yt = ys.getPixelForValue(p.threshold);
      ctx.strokeStyle = "#222";
      ctx.lineWidth = 1.3;
      ctx.setLineDash([4, 3]);
      ctx.beginPath();
      ctx.moveTo(3, yt);
      ctx.lineTo(chartArea.right, yt);
      ctx.stroke();
      ctx.setLineDash([]);
      // panel title
      ctx.fillStyle = TEXT;
      ctx.font = "24px Lato";
      ctx.textAlign = "left";
      ctx.textBaseline = "alphabetic";
      p.titles.forEach((t, k) => ctx.fillText(t, 169, p.titleY[k]));
      // legend in the harvest-date panel
      if (index === 3) {
        ctx.fillStyle = "#ffffff";
        ctx.fillRect(58, 691, 96, 107);
        const rows = [709, 735.5, 761.5, 788.5];
        seriesNames.forEach((name, s) => {
          const y = rows[s];
          const mx = 76;
          ctx.fillStyle = s === 1 ? "#c0504d" : seriesStyle[s].color;
          ctx.beginPath();
          if (s === 0) { ctx.arc(mx, y, 1.6, 0, Math.PI * 2); ctx.fill(); }
          else if (s === 1) { ctx.fillRect(mx - 2.5, y - 2.5, 5, 5); }
          else if (s === 2) { ctx.moveTo(mx, y - 2.2); ctx.lineTo(mx + 2.2, y + 1.8); ctx.lineTo(mx - 2.2, y + 1.8); ctx.closePath(); ctx.fill(); }
          else { ctx.arc(mx, y, 2.4, 0, Math.PI * 2); ctx.fill(); }
          ctx.fillStyle = TEXT;
          ctx.font = "bold 11.5px 'DejaVu Sans'";
          ctx.textBaseline = "middle";
          ctx.fillText(name, 83, y + 0.5);
        });
      }
      ctx.restore();
    },
  };
}

function Panel({ index }: { index: number }) {
  const ref = useRef<HTMLCanvasElement | null>(null);
  useEffect(() => {
    const p = panels[index];
    const canvas = ref.current;
    if (!canvas) return;
    const chart = new Chart(canvas, {
      type: "line",
      data: {
        datasets: p.series.map((groups, s) => ({
          label: seriesNames[s],
          data: buildPoints(groups),
          borderColor: seriesStyle[s].color,
          backgroundColor: seriesStyle[s].color,
          borderWidth: seriesStyle[s].width,
          order: seriesStyle[s].order,
          pointRadius: 0,
          pointHoverRadius: 0,
          spanGaps: false,
          fill: false,
          cubicInterpolationMode: "monotone",
          borderJoinStyle: "round",
          borderCapStyle: "round",
        })),
      },
      options: {
        responsive: false,
        maintainAspectRatio: false,
        animation: false,
        events: [],
        layout: { padding: { top: p.top, bottom: PAGE_H - p.zero, left: 0, right: 3 } },
        plugins: { legend: { display: false }, tooltip: { enabled: false }, title: { display: false } },
        scales: {
          x: { type: "linear", min: 0, max: mapMax, display: false },
          y: {
            type: "linear",
            min: 0,
            max: p.max,
            afterBuildTicks: (axis: any) => {
              axis.ticks = p.ticks.map((v) => ({ value: v }));
            },
            afterFit: (axis: any) => {
              axis.width = 42;
            },
            border: { display: true, color: "#8a8a8a", width: 1 },
            grid: { drawOnChartArea: false, drawTicks: true, tickLength: 5, color: "#8a8a8a" },
            ticks: { padding: 13, color: "#333", font: { family: "Lato", size: 10.5 } },
          },
        },
      },
      plugins: [makePlugin(index)],
    } as any);
    return () => chart.destroy();
  }, [index]);
  return (
    <canvas
      ref={ref}
      width={PAGE_W}
      height={PAGE_H}
      style={{ position: "absolute", left: 0, top: 0, width: PAGE_W, height: PAGE_H }}
    />
  );
}

export default function App() {
  return (
    <div style={{ position: "absolute", left: 0, top: 0, width: PAGE_W, height: PAGE_H, background: "#ffffff", overflow: "hidden" }}>
      {panels.map((_, i) => (
        <Panel key={i} index={i} />
      ))}
    </div>
  );
}
